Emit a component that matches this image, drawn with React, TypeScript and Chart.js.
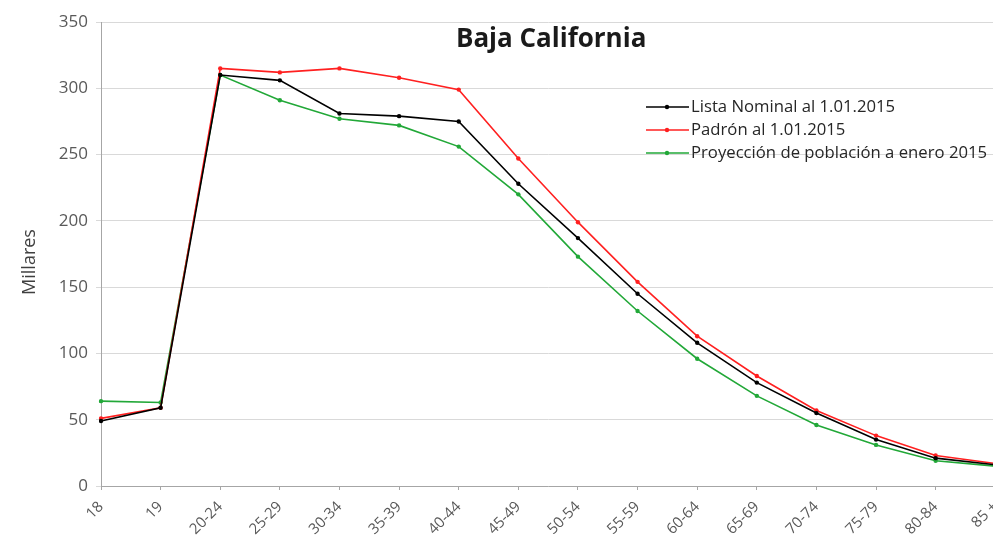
import React, { useEffect, useRef } from "react";
import { Chart, registerables } from "chart.js";

Chart.register(...registerables);

const categories = ["18", "19", "20-24", "25-29", "30-34", "35-39", "40-44", "45-49", "50-54", "55-59", "60-64", "65-69", "70-74", "75-79", "80-84", "85 +"];
const listaNominal = [49, 59, 310, 306, 281, 279, 275, 228, 187, 145, 108, 78, 55, 35, 21, 16];
const padron = [51, 59, 315, 312, 315, 308, 299, 247, 199, 154, 113, 83, 57, 38, 23, 17];
const proyeccion = [64, 63, 310, 291, 277, 272, 256, 220, 173, 132, 96, 68, 46, 31, 19, 15];
const seriesNames = ["Lista Nominal al 1.01.2015", "Padrón al 1.01.2015", "Proyección de población a enero 2015"];
const seriesColors = ["#000000", "#ff2020", "#22a838"];
const yTicks = [0, 50, 100, 150, 200, 250, 300, 350];
const titleText = "Baja California";
const yAxisTitle = "Millares";

const FONT = "'Open Sans', 'Liberation Sans', sans-serif";

const overlayPlugin = {
  id: "overlay",
  afterDraw(chart: any) {
    const { ctx, chartArea } = chart;
    ctx.save();
    // title
    ctx.font = `bold 26px ${FONT}`;
    ctx.fillStyle = "#1a1a1a";
    ctx.textAlign = "center";
    ctx.textBaseline = "middle";
    ctx.fillText(titleText, (chartArea.left + chartArea.right) / 2 + 3, 40);
    // y axis title
    ctx.save();
    ctx.translate(30, 262);
    ctx.rotate(-Math.PI / 2);
    ctx.font = `18px ${FONT}`;
    ctx.fillStyle = "#404040";
    ctx.fillText(yAxisTitle, 0, 0);
    ctx.restore();
    // legend
    const lx = 646;
    const ly = [107, 130, 153];
    ctx.font = `16.7px ${FONT}`;
    ctx.textAlign = "left";
    chart.data.datasets.forEach((ds: any, i: number) => {
      ctx.strokeStyle = ds.borderColor;
      ctx.lineWidth = 1.6;
      ctx.beginPath();
      ctx.moveTo(lx, ly[i]);
      ctx.lineTo(lx + 43, ly[i]);
      ctx.stroke();
      ctx.fillStyle = ds.borderColor;
      ctx.beginPath();
      ctx.arc(lx + 21, ly[i], 2.2, 0, Math.PI * 2);
      ctx.fill();
      ctx.fillStyle = "#262626";
      ctx.fillText(ds.label, lx + 45, ly[i]);
    });
    ctx.restore();
  },
};

export default function App() {
  const ref = useRef<HTMLCanvasElement>(null);
  useEffect(() => {
    document.body.style.margin = "0";
    document.body.style.overflow = "hidden";
    const mk = (data: number[], i: number) => ({
      label: seriesNames[i],
      data,
      borderColor: seriesColors[i],
      backgroundColor: seriesColors[i],
      borderWidth: 1.6,
      pointRadius: 2.2,
      pointHoverRadius: 2.2,
      pointBorderWidth: 0,
      tension: 0,
    });
    const chart = new Chart(ref.current!, {
      type: "line",
      data: {
        labels: categories,
        datasets: [mk(listaNominal, 0), mk(padron, 1), mk(proyeccion, 2)],
      },
      options: {
        animation: false,
        responsive: false,
        maintainAspectRatio: false,
        layout: { padding: { top: 22, right: 0, left: 0, bottom: 0 } },
        plugins: { legend: { display: false }, title: { display: false }, tooltip: { enabled: false } },
        scales: {
          x: {
            offset: false,
            grid: { display: true, drawOnChartArea: false, drawTicks: true, tickLength: 4, color: "#a6a6a6" },
            border: { color: "#a6a6a6", width: 1 },
            ticks: { maxRotation: 45, minRotation: 45, color: "#595959", font: { family: FONT, size: 15 }, padding: 8, autoSkip: false },
            afterFit: (s: any) => { s.height = 51; },
          },
          y: {
            min: 0,
            max: 350,
            afterBuildTicks: (s: any) => { s.ticks = yTicks.map((v) => ({ value: v })); },
            grid: { color: "#d9d9d9", tickLength: 5, lineWidth: 1 },
            border: { color: "#a6a6a6" },
            ticks: { color: "#595959", font: { family: FONT, size: 17 }, padding: 8 },
            afterFit: (s: any) => { s.width = 101; },
          },
        },
      },
      plugins: [overlayPlugin],
    });
    return () => chart.destroy();
  }, []);
  return (
    <div style={{ position: "fixed", left: 0, top: 0, width: 993, height: 537, overflow: "hidden", background: "#fff" }}>
      <canvas ref={ref} width={1016} height={537} style={{ display: "block" }} />
    </div>
  );
}
